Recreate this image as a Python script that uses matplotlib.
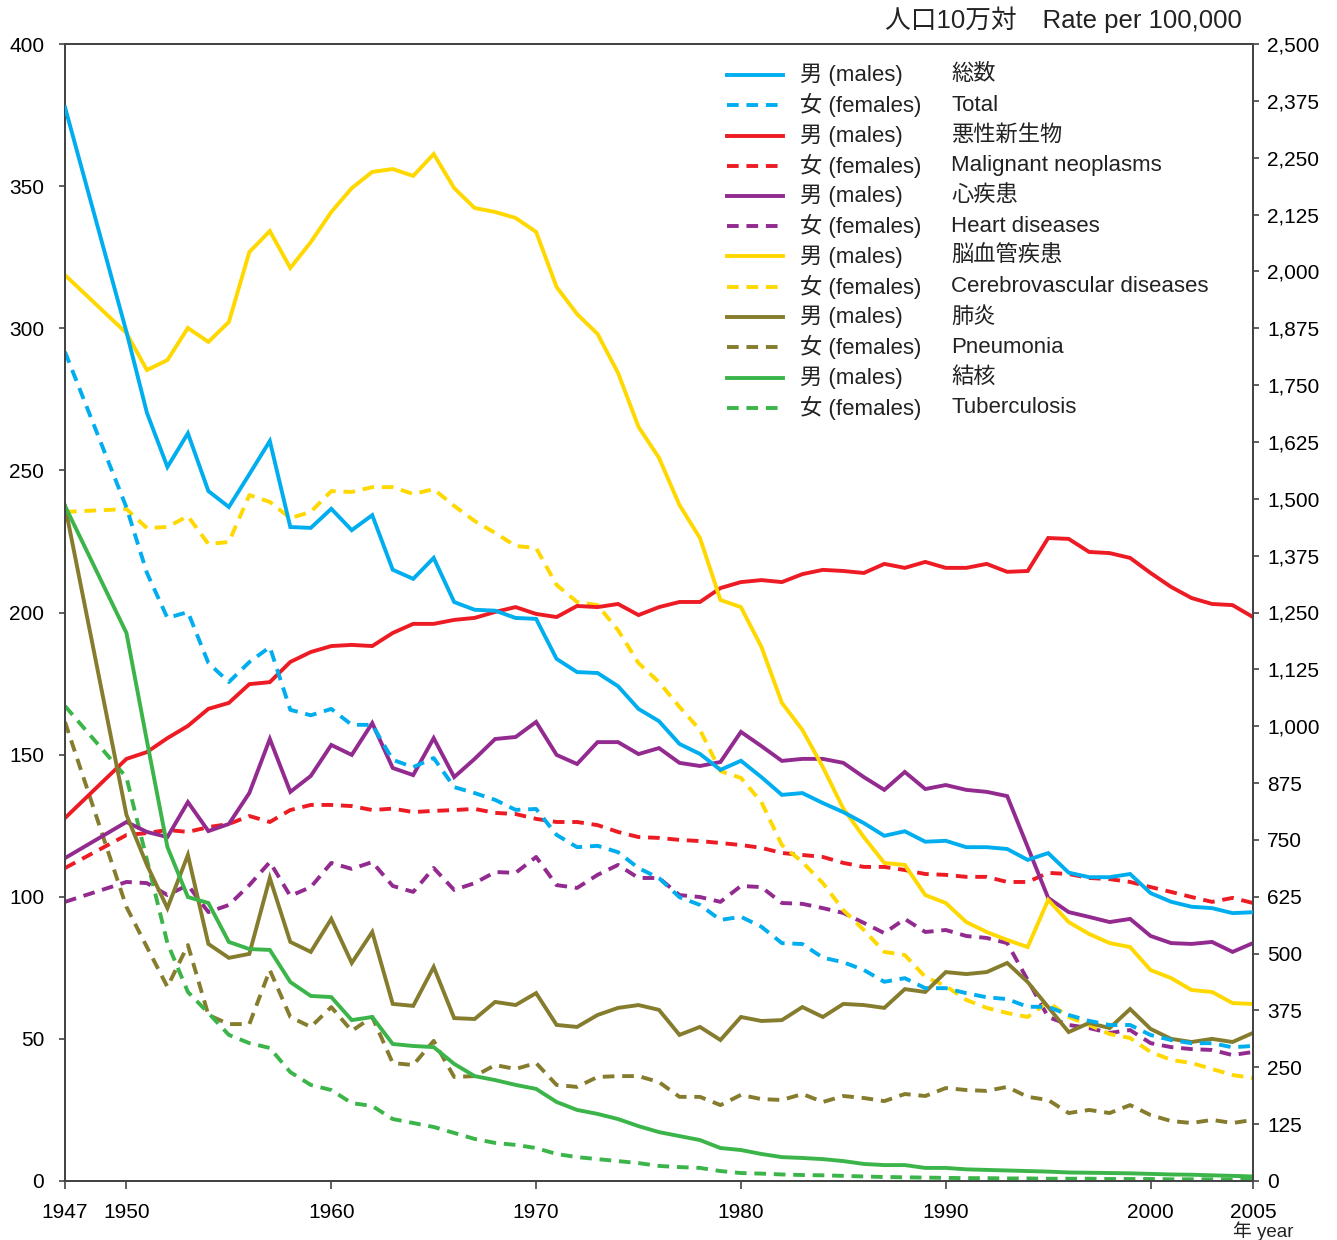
import matplotlib
matplotlib.use("Agg")
import matplotlib.pyplot as plt
from matplotlib.lines import Line2D
from matplotlib.ticker import FuncFormatter, MultipleLocator

plt.rcParams['font.family'] = ['Liberation Sans', 'Noto Sans CJK JP', 'DejaVu Sans']

# --- data (age-adjusted death rates per 100,000) ---
years = [1947] + list(range(1950, 2006))

# total (right axis, 0-2500)
total_m = [2361, 1867, 1689, 1570, 1644, 1517, 1482, 1554, 1627, 1438, 1436, 1478,
           1431, 1464, 1344, 1324, 1370, 1273, 1256, 1254, 1238, 1236,
           1148, 1119, 1117, 1088, 1038, 1011, 961, 939, 904, 924,
           888, 849, 853, 831, 811, 787, 759, 769, 746, 748,
           734, 734, 730, 706, 721, 678, 668, 668, 675, 633,
           614, 603, 600, 589, 591]
total_f = [1823, 1481, 1337, 1238, 1251, 1139, 1097, 1141, 1174, 1036, 1024, 1038,
           1003, 1003, 926, 910, 930, 866, 853, 838, 816, 818,
           761, 734, 737, 723, 688, 666, 624, 607, 574, 581,
           559, 523, 521, 491, 481, 464, 438, 446, 424, 424,
           413, 404, 400, 383, 383, 365, 352, 343, 343, 321,
           310, 303, 303, 294, 297]

# causes (left axis, 0-400)
cancer_m = [127.7, 148.5, 150.9, 155.8, 160.1, 166.1, 168.2, 174.8, 175.5, 182.6, 186.1, 188.2,
            188.6, 188.2, 192.8, 196.0, 196.0, 197.4, 198.1, 200.2, 201.9, 199.5,
            198.4, 202.3, 201.9, 203.0, 199.1, 201.9, 203.7, 203.7, 208.6, 210.7,
            211.4, 210.7, 213.5, 215.0, 214.6, 213.9, 217.1, 215.7, 217.8, 215.7,
            215.7, 217.1, 214.3, 214.6, 226.2, 225.9, 221.3, 220.9, 219.2, 213.9,
            209.0, 205.1, 203.0, 202.6, 198.4]
cancer_f = [110.1, 121.7, 122.4, 123.5, 122.8, 124.5, 125.6, 128.4, 126.3, 130.5, 132.3, 132.3,
            131.9, 130.5, 131.0, 129.8, 130.2, 130.5, 130.9, 129.5, 129.1, 127.4,
            126.3, 126.3, 125.2, 122.8, 121.0, 120.7, 120.0, 119.6, 118.9, 118.2,
            117.2, 115.4, 114.7, 114.0, 111.9, 110.5, 110.5, 109.4, 108.0, 107.7,
            107.0, 107.0, 105.2, 105.2, 108.4, 108.0, 106.6, 106.2, 105.2, 103.4,
            101.7, 99.9, 98.2, 99.6, 97.8]
heart_m = [113.6, 126.3, 122.8, 121.0, 133.3, 123.1, 125.6, 136.5, 155.5, 136.9, 142.5, 153.4,
           149.9, 161.1, 145.3, 142.8, 155.8, 142.1, 148.5, 155.5, 156.2, 161.5,
           149.9, 146.7, 154.4, 154.4, 150.2, 152.3, 147.1, 146.0, 147.4, 158.0,
           153.0, 147.8, 148.5, 148.5, 147.1, 142.1, 137.6, 143.9, 137.9, 139.3,
           137.6, 136.9, 135.4, 117.5, 99.6, 94.6, 92.9, 91.1, 92.2, 86.2,
           83.7, 83.4, 84.1, 80.6, 83.7]
heart_f = [98.2, 105.2, 104.8, 100.6, 104.1, 94.6, 97.1, 104.1, 112.2, 100.3, 103.4, 111.9,
           109.8, 112.2, 103.8, 101.7, 110.1, 102.4, 104.8, 108.7, 108.4, 114.0,
           104.1, 103.1, 107.7, 111.2, 106.6, 106.6, 100.6, 99.9, 98.2, 103.8,
           103.4, 97.8, 97.5, 96.0, 94.3, 90.8, 87.2, 92.2, 87.6, 88.3,
           86.2, 85.5, 83.7, 70.7, 57.7, 54.9, 53.8, 52.1, 53.1, 48.5,
           47.1, 46.4, 46.1, 44.3, 45.4]
cerebro_m = [318.7, 298.3, 285.3, 288.8, 300.1, 295.2, 302.2, 326.8, 334.2, 321.2, 330.3, 340.9,
             349.3, 355.0, 356.0, 353.6, 361.3, 349.3, 342.3, 340.9, 338.8, 333.9,
             314.5, 305.0, 298.0, 284.3, 265.3, 254.4, 237.8, 226.2, 204.4, 201.9,
             187.9, 168.2, 158.7, 145.6, 131.0, 121.0, 111.9, 111.2, 100.6, 97.8,
             91.1, 87.6, 84.8, 82.3, 98.9, 91.1, 86.9, 83.7, 82.3, 74.2,
             71.4, 67.2, 66.5, 62.6, 62.3]
cerebro_f = [235.4, 236.4, 229.7, 230.1, 233.9, 224.1, 224.8, 241.3, 238.9, 233.2, 235.4, 242.7,
             242.4, 244.1, 244.1, 241.7, 243.4, 237.5, 232.2, 228.0, 223.4, 222.7,
             209.7, 203.7, 202.6, 193.8, 182.2, 175.5, 166.8, 158.7, 144.2, 141.8,
             133.3, 118.2, 112.2, 104.8, 95.3, 88.3, 80.6, 79.5, 71.8, 68.6,
             63.7, 60.9, 59.1, 57.7, 63.0, 57.7, 54.9, 51.7, 50.3, 45.4,
             42.6, 41.5, 39.4, 37.3, 36.2]
pneu_m = [237.5, 128.8, 111.2, 96.0, 114.7, 83.4, 78.5, 79.9, 106.6, 84.1, 80.6, 92.2,
          76.7, 87.6, 62.3, 61.6, 75.3, 57.3, 57.0, 63.0, 61.9, 66.1,
          54.9, 54.2, 58.4, 60.9, 61.9, 60.2, 51.4, 54.2, 49.6, 57.7,
          56.3, 56.6, 61.2, 57.7, 62.3, 61.9, 60.9, 67.5, 66.5, 73.5,
          72.8, 73.5, 76.7, 70.0, 61.2, 52.4, 55.6, 53.8, 60.5, 53.5,
          50.0, 48.9, 50.0, 48.9, 52.1]
pneu_f = [161.5, 96.4, 82.3, 68.3, 83.0, 58.4, 55.2, 55.2, 74.2, 57.7, 54.2, 61.2,
          52.8, 57.7, 41.5, 40.8, 49.3, 36.6, 36.9, 40.8, 39.4, 41.5,
          33.8, 33.1, 36.6, 36.9, 36.9, 34.8, 29.6, 29.6, 26.7, 30.3,
          28.8, 28.5, 30.6, 27.8, 29.9, 29.2, 28.1, 30.6, 29.9, 32.7,
          32.0, 31.7, 33.1, 29.6, 28.5, 23.9, 25.0, 23.9, 26.7, 23.2,
          21.1, 20.4, 21.5, 20.4, 21.5]
tb_m = [237.5, 192.8, 154.8, 117.5, 99.9, 97.8, 84.1, 81.6, 81.3, 70.0, 65.1, 64.7,
        56.6, 57.7, 48.2, 47.5, 47.1, 41.2, 36.9, 35.5, 33.8, 32.4,
        27.8, 25.0, 23.6, 21.8, 19.3, 17.2, 15.8, 14.4, 11.6, 10.9,
        9.5, 8.4, 8.1, 7.7, 7.0, 6.0, 5.6, 5.6, 4.6, 4.6,
        4.1, 3.9, 3.7, 3.5, 3.3, 3.0, 2.9, 2.8, 2.7, 2.5,
        2.3, 2.2, 2.0, 1.8, 1.6]
tb_f = [167.1, 142.0, 113.0, 83.7, 66.5, 59.1, 51.4, 48.5, 46.8, 38.3, 33.8, 32.0,
        27.4, 26.4, 21.8, 20.4, 19.0, 16.9, 14.8, 13.4, 12.7, 11.6,
        9.5, 8.4, 7.7, 7.0, 6.3, 5.3, 4.9, 4.6, 3.5, 2.8,
        2.6, 2.3, 2.1, 2.0, 1.8, 1.6, 1.4, 1.3, 1.2, 1.1,
        1.0, 1.0, 0.9, 0.9, 0.8, 0.8, 0.8, 0.7, 0.7, 0.7,
        0.6, 0.6, 0.6, 0.5, 0.5]

causes_ja = ["総数", "悪性新生物", "心疾患", "脳血管疾患", "肺炎", "結核"]
causes_en = ["Total", "Malignant neoplasms", "Heart diseases",
             "Cerebrovascular diseases", "Pneumonia", "Tuberculosis"]
sex_labels = ["男 (males)", "女 (females)"]
colors = ["#00aeef", "#ed1c24", "#922a8f", "#ffd800", "#857c2d", "#3bb54a"]
series = [(total_m, total_f), (cancer_m, cancer_f), (heart_m, heart_f),
          (cerebro_m, cerebro_f), (pneu_m, pneu_f), (tb_m, tb_f)]

# --- figure ---
W, H = 1337, 1240
fig = plt.figure(figsize=(W / 100, H / 100), dpi=100)
ax = fig.add_axes([65 / W, 59 / H, 1188 / W, 1137 / H])
ax2 = ax.twinx()

LW = 2.8
DASH = (3.0, 2.0)
spine_c = "#444444"

for i, ((m, f), c) in enumerate(zip(series, colors)):
    a = ax2 if i == 0 else ax
    a.plot(years, f, color=c, lw=LW, ls=(0, DASH), solid_capstyle="butt",
           dash_capstyle="butt", zorder=2)
    a.plot(years, m, color=c, lw=LW, solid_joinstyle="miter", zorder=3)

ax.set_xlim(1947, 2005)
ax.set_ylim(0, 400)
ax2.set_ylim(0, 2500)
ax.set_xticks([1947, 1950, 1960, 1970, 1980, 1990, 2000, 2005])
ax.yaxis.set_major_locator(MultipleLocator(50))
ax2.yaxis.set_major_locator(MultipleLocator(125))
ax2.yaxis.set_major_formatter(FuncFormatter(lambda v, p: f"{int(v):,}"))

for a in (ax, ax2):
    for s in a.spines.values():
        s.set_color(spine_c)
        s.set_linewidth(1.4)
ax.tick_params(axis="y", direction="out", length=4, width=1.2, color=spine_c,
               labelsize=15, pad=11)
ax.tick_params(axis="x", direction="out", length=6, width=1.2, color=spine_c,
               labelsize=15, pad=10)
ax2.tick_params(axis="y", direction="out", length=4, width=1.2, color=spine_c,
                labelsize=15, pad=6)


def fx(x):
    return x / W


def fy(y):
    return 1 - y / H


# title / unit labels
fig.text(fx(1242), fy(20), "人口10万対　Rate per 100,000", fontsize=18.5,
         ha="right", va="center", color="#222222")
fig.text(fx(1233), fy(1231), "年 year", fontsize=13.5, ha="left", va="center",
         color="#222222")

# legend drawn as a table: sample line, sex label, cause name
row0, step = 75, 30.25
for i, c in enumerate(colors):
    for k, sex in enumerate(sex_labels):
        y = fy(row0 + step * (2 * i + k))
        ls = "-" if k == 0 else (0, DASH)
        fig.add_artist(Line2D([fx(727), fx(783)], [y, y], transform=fig.transFigure,
                              color=c, lw=LW, ls=ls, dash_capstyle="butt"))
        fig.text(fx(800), y, sex, fontsize=16, va="center", ha="left", color="#222222")
    fig.text(fx(951), fy(row0 + step * 2 * i), causes_ja[i], fontsize=16,
             va="center", ha="left", color="#222222")
    fig.text(fx(951), fy(row0 + step * (2 * i + 1)), causes_en[i], fontsize=16,
             va="center", ha="left", color="#222222")

fig.savefig("out.png", dpi=100)
